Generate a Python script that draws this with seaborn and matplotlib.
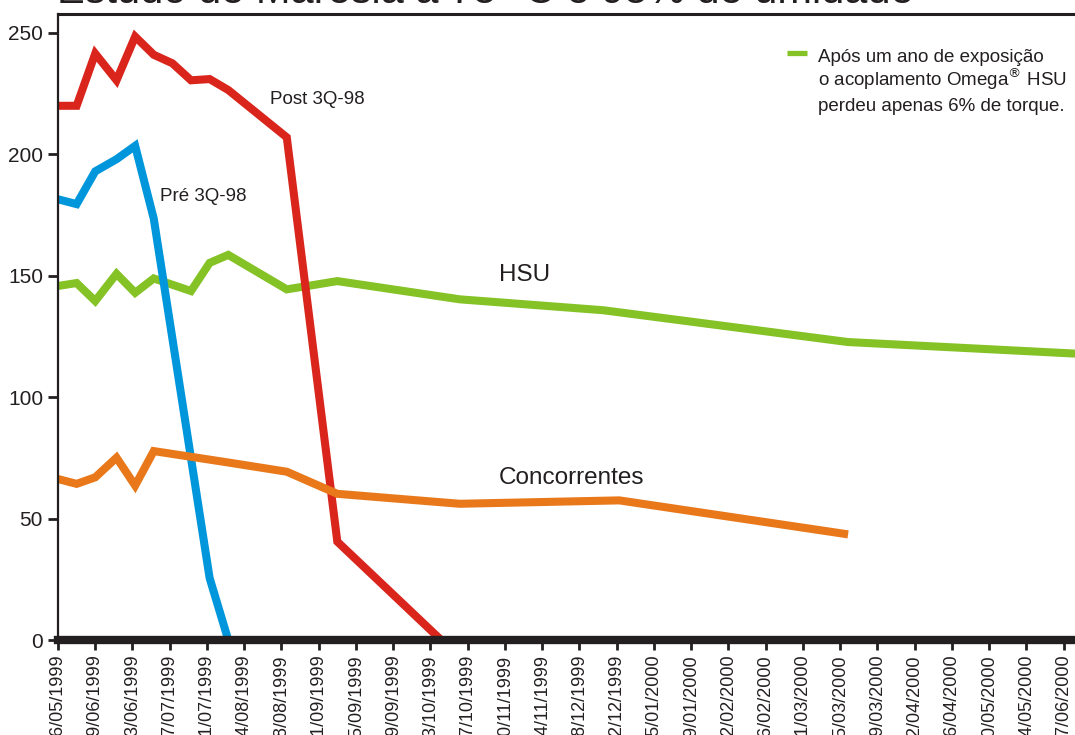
import pandas as pd
import matplotlib
matplotlib.use('Agg')
import matplotlib.pyplot as plt
import matplotlib.dates as mdates
from matplotlib.lines import Line2D
import seaborn as sns

# series (torque vs. date)
post_dates = ['26/05/1999', '02/06/1999', '09/06/1999', '17/06/1999', '24/06/1999', '01/07/1999',
              '08/07/1999', '15/07/1999', '22/07/1999', '29/07/1999', '20/08/1999', '08/09/1999', '17/10/1999']
post_vals = [220, 220, 241.5, 230.5, 248.5, 241, 237.5, 230.5, 231, 226.5, 207, 40.5, 0]

pre_dates = ['26/05/1999', '02/06/1999', '09/06/1999', '17/06/1999', '24/06/1999', '01/07/1999',
             '22/07/1999', '29/07/1999']
pre_vals = [181.5, 179.5, 193, 198, 203.5, 173.5, 25.5, 0]

hsu_dates = ['26/05/1999', '02/06/1999', '09/06/1999', '17/06/1999', '24/06/1999', '01/07/1999',
             '15/07/1999', '22/07/1999', '29/07/1999', '20/08/1999', '08/09/1999', '24/10/1999',
             '17/12/1999', '18/03/2000', '14/06/2000']
hsu_vals = [145.8, 147, 139.6, 150.8, 143, 148.9, 143.7, 155.3, 158.6, 144.4, 147.8, 140.3,
            135.8, 122.7, 117.8]

conc_dates = ['26/05/1999', '02/06/1999', '09/06/1999', '17/06/1999', '24/06/1999', '01/07/1999',
              '29/07/1999', '20/08/1999', '08/09/1999', '24/10/1999', '23/12/1999', '18/03/2000']
conc_vals = [66.3, 64.3, 67, 75.1, 63.6, 77.8, 73.1, 69.3, 60.2, 56.1, 57.5, 43.5]

series_names = ['HSU', 'Post 3Q-98', 'Pré 3Q-98', 'Concorrentes']
series_colors = ['#84C225', '#DA251D', '#0096DB', '#E8781A']

tick_dates = pd.date_range('1999-05-26', '2000-06-07', freq='14D')
y_ticks = [0, 50, 100, 150, 200, 250]

title = 'Estudo de Maresia a 75° C e 95% de umidade'
note_lines = ['Após um ano de exposição',
              'o acoplamento Omega$^{\\circledR}$ HSU',
              'perdeu apenas 6% de torque.']

frames = []
for name, d, v in [('HSU', hsu_dates, hsu_vals), ('Post 3Q-98', post_dates, post_vals),
                   ('Pré 3Q-98', pre_dates, pre_vals), ('Concorrentes', conc_dates, conc_vals)]:
    frames.append(pd.DataFrame({'data': pd.to_datetime(d, format='%d/%m/%Y'), 'torque': v, 'serie': name}))
df = pd.concat(frames, ignore_index=True)

sns.set_style('white')
plt.rcParams['font.family'] = ['Liberation Sans', 'DejaVu Sans']
dark = '#231f20'

W, H = 1075, 735
fig = plt.figure(figsize=(W / 100, H / 100), dpi=100)
ax = fig.add_axes([58 / W, 1 - 640 / H, 1 - 58 / W, (640 - 14) / H])

sns.lineplot(data=df, x='data', y='torque', hue='serie', hue_order=series_names,
             palette=dict(zip(series_names, series_colors)), linewidth=5.8,
             estimator=None, sort=False, legend=False, ax=ax)
for ln in ax.get_lines():
    ln.set_solid_joinstyle('miter')
    ln.set_solid_capstyle('butt')

start = pd.Timestamp('1999-05-26')
ax.set_xlim(start, start + pd.Timedelta(days=382.3))
ax.set_ylim(0, 257.8)
ax.set_yticks(y_ticks)
ax.set_xticks(tick_dates)
ax.xaxis.set_major_formatter(mdates.DateFormatter('%d/%m/%Y'))
plt.setp(ax.get_xticklabels(), rotation=90)
ax.set_xlabel('')
ax.set_ylabel('')

ax.tick_params(axis='x', length=7, width=2, pad=3.5, labelsize=13, colors=dark, bottom=True)
ax.tick_params(axis='y', length=7.2, width=2, pad=3.6, labelsize=15, colors=dark, left=True)

ax.spines['right'].set_visible(False)
ax.spines['left'].set_linewidth(1.6)
ax.spines['top'].set_linewidth(2.2)
ax.spines['bottom'].set_linewidth(6)
for s in ['left', 'top', 'bottom']:
    ax.spines[s].set_color(dark)

# series labels
ax.text(270 / W, 1 - 100 / H, 'Post 3Q-98', transform=fig.transFigure, fontsize=13.5,
        color=dark, va='center', ha='left')
ax.text(160 / W, 1 - 196.5 / H, 'Pré 3Q-98', transform=fig.transFigure, fontsize=13.5,
        color=dark, va='center', ha='left')
ax.text(499 / W, 1 - 275 / H, 'HSU', transform=fig.transFigure, fontsize=17.5,
        color=dark, va='center', ha='left')
ax.text(499 / W, 1 - 478 / H, 'Concorrentes', transform=fig.transFigure, fontsize=17.5,
        color=dark, va='center', ha='left')

# note with green key, one line per row so the superscript does not stretch the spacing
for i, line in enumerate(note_lines):
    fig.text(818 / W, 1 - (61.7 + 24.7 * i) / H, line, fontsize=13.5, color=dark,
             va='baseline', ha='left')
fig.add_artist(Line2D([787 / W, 807 / W], [1 - 53.2 / H, 1 - 53.2 / H], transform=fig.transFigure,
                      color=series_colors[0], lw=3.8, solid_capstyle='butt'))

# title, cut off at the top edge as in the source
fig.text(57 / W, 1 - 3 / H, title, fontsize=30, color=dark, va='baseline', ha='left')

fig.savefig('out.png', dpi=100)
